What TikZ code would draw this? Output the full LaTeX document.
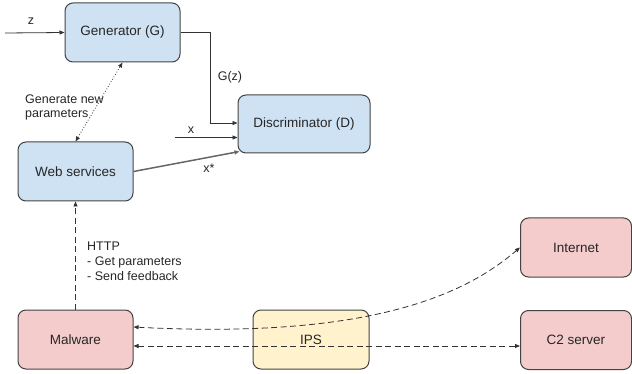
\documentclass[tikz,border=0pt]{standalone}
\usepackage{fontspec}
\setmainfont{Liberation Sans}
\usetikzlibrary{arrows.meta}
\tikzset{>/.tip={Triangle[length=5pt,width=4pt]}}
\definecolor{gblue}{HTML}{CFE2F3}
\definecolor{gpink}{HTML}{F4CCCC}
\definecolor{gyellow}{HTML}{FFF2CC}
\definecolor{gedge}{HTML}{434343}

\begin{document}
\begin{tikzpicture}[x=1pt,y=-1pt,
  box/.style={draw=gedge,line width=1pt,rounded corners=8pt,minimum width=115pt,
    minimum height=59pt,font=\fontsize{13.5}{16}\selectfont,text=black!85},
  lbl/.style={font=\fontsize{12.5}{15}\selectfont,text=black!85,inner sep=0pt},
  conn/.style={draw=black!80,line width=0.8pt},
  dsh/.style={conn,dash pattern=on 6pt off 3.5pt}]
\useasboundingbox (0,0) rectangle (632,374);
\node[box,fill=gblue] (gen) at (122.5,32.5) {Generator (G)};
\node[box,fill=gblue,minimum width=132pt,minimum height=58pt] (disc) at (304,124) {Discriminator (D)};
\node[box,fill=gblue] (web) at (75.5,171.5) {Web services};
\node[box,fill=gpink] (mal) at (75.5,339.5) {Malware};
\node[box,fill=gyellow,minimum width=116pt] (ips) at (311,339.5) {IPS};
\node[box,fill=gpink,minimum width=111pt] (inet) at (576,247.5) {Internet};
\node[box,fill=gpink,minimum width=111pt] (c2) at (576,340) {C2 server};

\node[lbl] (zlbl) at (31,21) {z};
\node[lbl] (gzlbl) at (230,77) {G(z)};
\node[lbl] (xlbl) at (191,130) {x};
\node[lbl] (xslbl) at (209,168) {x*};
\node[lbl,align=left,anchor=north west,font=\fontsize{12.5}{14}\selectfont] (genlbl) at (25,95) {Generate new\\parameters};
\node[lbl,align=left,anchor=north west] (httplbl) at (87,242) {HTTP\\- Get parameters\\- Send feedback};

\coordinate (zin) at (5,33);
\coordinate (xin) at (175,137.5);

\draw[conn,->] (zin) -- (gen.west);
\draw[conn,->] (gen.east) -- ++(30,0) |- ([yshift=1pt]disc.west);
\draw[conn,->] (xin) -- (xin -| disc.west);
\draw[->,draw=black!60,line width=1.5pt] (web.east) -- ([xshift=2pt,yshift=2pt]disc.south west);
\draw[conn,<->,dotted] (web.north) -- (gen.south);
\draw[dsh,->] (mal.north) -- (web.south);
\draw[dsh,<->] ([yshift=12.5pt]mal.east) .. controls (380,340) and (470,290) .. (inet.west);
\draw[dsh,<->] ([yshift=-6.5pt]mal.east) -- ([yshift=-6.5pt]mal.east -| c2.west);
\end{tikzpicture}
\end{document}
